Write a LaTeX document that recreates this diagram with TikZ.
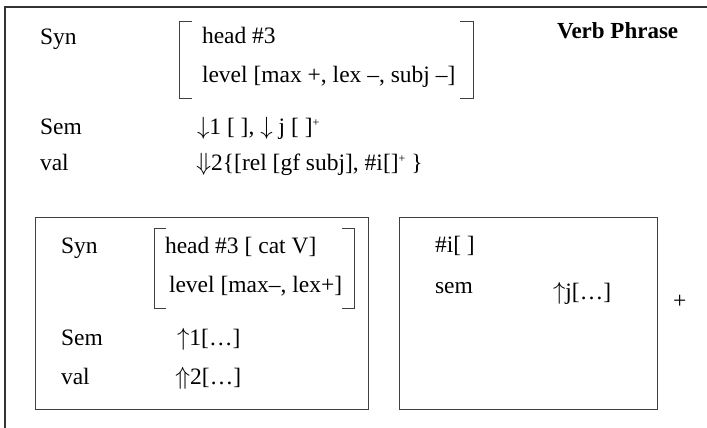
\documentclass[tikz,border=0pt]{standalone}
\usepackage{fontspec}
\setmainfont{Liberation Serif}
\newcommand{\supplus}{\raisebox{0.32em}{\fontsize{12}{12}\selectfont +}}
\tikzset{
  txt/.style={anchor=base west, inner sep=0pt, outer sep=0pt, font=\fontsize{23.5}{28}\selectfont},
  frameline/.style={line width=1.3pt, draw=black!80},
  boxline/.style={line width=1.1pt, draw=black!75},
  brk/.style={line width=1pt, draw=black!75}
}
\begin{document}
\begin{tikzpicture}[x=1pt,y=-1pt]
\useasboundingbox (0,0) rectangle (707,428);
% outer frame (only top and left visible)
\coordinate (fTL) at (5,7);
\coordinate (fTR) at (707,7);
\coordinate (fBL) at (5,428);
\draw[frameline] (fTR) -- (fTL) -- (fBL);

% top section
\node[txt] (syn) at (40,45) {Syn};
\node[txt] (head) at (202,44) {head \#3};
\node[txt] (level) at (202,83) {level [max +, lex –, subj –]};
\node[txt, font=\fontsize{23}{28}\selectfont\bfseries] (vp) at (557,39) {Verb Phrase};
\node[txt] (sem) at (40,134) {Sem};
\node[txt] (semv) at (197,134) {$\downarrow$1 [ ], $\downarrow$ j [ ]\supplus};
\node[txt] (val) at (40,170) {val};
\node[txt] (valv) at (196,170) {$\Downarrow$2\{[rel [gf subj], \#i[]\supplus\ \}};
\draw[brk] (192,22) -- (179,22) -- (179,98) -- (192,98);
\draw[brk] (460,22) -- (473,22) -- (473,98) -- (460,98);

% box 1
\node[draw, boxline, minimum width=333pt, minimum height=192pt, anchor=north west, inner sep=0pt] (box1) at (35,217) {};
\node[txt] (syn2) at (61,253) {Syn};
\node[txt] (head2) at (165,253) {head \#3 [ cat V]};
\node[txt] (level2) at (169,292) {level [max–, lex+]};
\draw[brk] (166,228) -- (154,228) -- (154,308) -- (166,308);
\draw[brk] (342,228) -- (354,228) -- (354,308) -- (342,308);
\node[txt] (sem2) at (61,345) {Sem};
\node[txt] (sem2v) at (177,345) {$\uparrow$1[…]};
\node[txt] (val2) at (61,384) {val};
\node[txt] (val2v) at (175,384) {$\Uparrow$2[…]};

% box 2
\node[draw, boxline, minimum width=258pt, minimum height=192pt, anchor=north west, inner sep=0pt] (box2) at (399,217) {};
\node[txt] (hi) at (435,252) {\#i[ ]};
\node[txt] (sem3) at (435,293) {sem};
\node[txt] (sem3v) at (553,299) {$\uparrow$j[…]};
\node[txt] (plus) at (673,308) {+};
\end{tikzpicture}
\end{document}
